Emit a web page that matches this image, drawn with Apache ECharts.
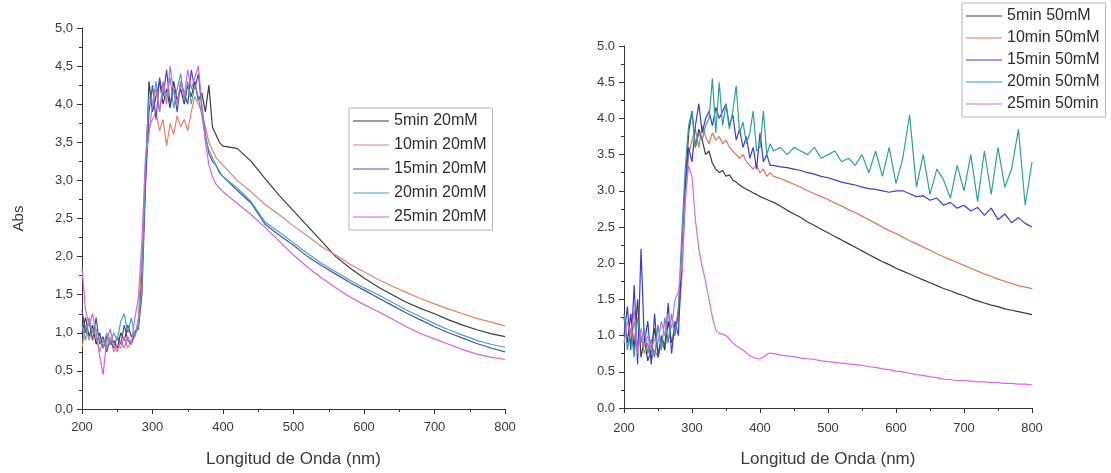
<!DOCTYPE html>
<html><head><meta charset="utf-8">
<script src="https://cdn.jsdelivr.net/npm/echarts@6/dist/echarts.min.js"></script>
<style>html,body{margin:0;padding:0;background:#fff}#c{width:1111px;height:473px}</style>
</head><body><div id="c"></div>
<script>
// ---------- Left chart (20mM) ----------
const wlLeft = [200,205,210,215,220,225,230,235,240,245,250,255,260,265,270,275,280,285,290,295,300,305,310,315,320,325,330,335,340,345,350,355,360,365,370,375,380,385,390,395,400,420,440,460,480,500,520,540,560,580,600,620,640,660,680,700,720,740,760,780,800];
const namesLeft = ['5min 20mM','10min 20mM','15min 20mM','20min 20mM','25min 20mM'];
const l5 = [1.0,1.2,0.95,1.1,0.85,1.0,0.8,0.95,0.85,0.9,0.8,1.0,0.9,1.1,0.95,1.0,1.1,
  1.8,3.0,4.3,3.9,4.1,4.3,4.0,4.2,3.95,4.3,4.05,4.2,4.0,4.25,4.1,4.3,4.05,4.15,3.9,4.25,3.7,3.6,3.5,3.45,
  3.42,3.25,3.02,2.8,2.6,2.4,2.2,2.0,1.85,1.72,1.6,1.5,1.4,1.32,1.25,1.17,1.1,1.04,0.99,0.95];
const l10 = [0.8,1.1,0.9,1.05,0.95,0.75,0.9,0.8,0.95,0.75,0.85,0.8,0.95,0.8,0.9,0.95,1.2,
  2.0,3.1,3.7,3.8,3.9,3.65,3.8,3.45,3.75,3.6,3.85,3.7,3.8,3.65,3.9,4.1,4.0,3.9,3.7,3.5,3.4,3.3,3.25,3.2,
  3.0,2.85,2.68,2.55,2.4,2.27,2.13,2.02,1.9,1.8,1.7,1.61,1.53,1.45,1.38,1.31,1.25,1.19,1.14,1.09];
const l15 = [1.3,1.0,1.15,0.9,1.2,0.85,0.95,0.75,0.9,0.8,0.95,0.85,1.1,0.9,0.85,1.0,1.05,
  1.5,2.9,3.9,4.25,3.8,4.35,4.1,4.45,4.0,4.2,3.9,4.3,4.15,4.0,4.45,4.2,4.4,3.95,3.6,3.35,3.25,3.2,3.1,3.05,
  2.87,2.7,2.42,2.28,2.15,2.0,1.88,1.77,1.66,1.56,1.46,1.36,1.26,1.17,1.08,1.0,0.93,0.86,0.8,0.75];
const l20 = [1.1,0.9,1.2,1.0,1.05,0.9,0.8,1.0,0.85,1.0,0.9,1.15,1.25,1.0,1.2,0.95,1.1,
  1.6,3.2,4.1,4.0,4.3,3.9,4.2,4.1,4.35,3.95,4.2,4.4,4.05,4.3,4.0,4.25,4.1,3.85,3.55,3.4,3.3,3.2,3.12,3.05,
  2.9,2.72,2.45,2.32,2.18,2.04,1.91,1.8,1.69,1.59,1.5,1.4,1.3,1.21,1.12,1.04,0.97,0.9,0.85,0.81];
const l25 = [1.85,1.3,1.1,1.25,1.0,0.7,0.45,0.9,1.05,0.85,0.75,0.9,0.8,0.95,0.85,1.2,1.45,
  2.2,3.3,3.6,4.0,4.2,3.9,4.3,4.0,4.5,4.15,4.0,4.3,4.1,4.45,4.2,4.35,4.5,4.0,3.5,3.2,3.05,2.95,2.9,2.85,
  2.7,2.55,2.38,2.2,2.02,1.86,1.72,1.59,1.47,1.37,1.28,1.18,1.08,0.99,0.92,0.85,0.78,0.72,0.68,0.65];

// ---------- Right chart (50mM) ----------
const wlRight = [200,205,210,215,220,225,230,235,240,245,250,255,260,265,270,275,280,285,290,295,300,305,310,315,320,325,330,335,340,345,350,355,360,365,370,375,380,385,390,395,400,405,410,415,420,
  430,440,450,460,470,480,490,500,510,520,530,540,550,560,570,580,590,600,610,620,630,640,650,660,670,680,690,700,710,720,730,740,750,760,770,780,790,800];
const namesRight = ['5min 50mM','10min 50mM','15min 50mM','20min 50mM','25min 50min'];
const r5 = [1.25,0.9,1.3,0.8,1.5,0.7,0.95,0.65,0.8,1.1,0.75,0.95,0.8,1.2,0.9,1.05,1.3,1.9,
  3.0,3.8,4.1,3.6,3.85,3.7,3.5,3.55,3.38,3.3,3.25,3.28,3.2,3.22,3.15,3.12,3.08,3.05,3.02,3.0,2.97,2.95,2.92,2.9,2.88,2.86,2.84,
  2.79,2.73,2.68,2.63,2.57,2.52,2.47,2.42,2.37,2.32,2.27,2.22,2.17,2.12,2.07,2.02,1.98,1.93,1.89,1.85,
  1.81,1.77,1.73,1.69,1.65,1.62,1.58,1.55,1.51,1.48,1.45,1.42,1.4,1.37,1.35,1.33,1.31,1.29];
const r10 = [1.1,1.0,0.9,1.2,0.85,1.0,0.75,0.9,0.65,0.8,0.7,0.9,0.85,1.0,0.95,1.1,1.2,1.8,
  2.8,3.5,3.7,3.85,3.6,3.9,3.75,3.65,3.8,3.7,3.75,3.65,3.7,3.6,3.55,3.5,3.45,3.5,3.4,3.35,3.3,3.35,3.25,3.3,3.2,3.25,3.2,
  3.17,3.13,3.09,3.05,3.0,2.96,2.92,2.88,2.83,2.79,2.74,2.7,2.65,2.6,2.55,2.5,2.45,2.41,2.36,2.31,
  2.27,2.22,2.18,2.13,2.09,2.05,2.01,1.97,1.93,1.89,1.85,1.82,1.78,1.75,1.72,1.69,1.67,1.65];
const r15 = [1.0,1.4,0.8,1.7,0.6,2.2,0.9,1.2,0.6,1.3,0.7,1.0,0.85,1.45,0.75,1.2,1.0,2.1,
  3.1,3.6,3.4,3.9,4.2,3.8,4.0,4.1,3.9,4.15,4.0,4.1,4.2,3.9,4.05,3.7,3.85,3.6,3.75,3.45,3.6,3.3,3.8,3.4,3.5,3.35,3.35,
  3.33,3.32,3.3,3.28,3.25,3.23,3.2,3.18,3.15,3.12,3.1,3.08,3.05,3.03,3.02,3.0,2.98,3.0,3.0,2.96,
  2.92,2.93,2.87,2.9,2.8,2.84,2.76,2.8,2.72,2.77,2.66,2.76,2.6,2.68,2.56,2.63,2.55,2.5];
const r20 = [1.3,0.8,1.1,0.7,1.25,0.9,1.1,0.75,0.95,0.7,1.15,0.8,1.25,0.9,1.3,1.0,1.4,2.4,
  3.3,3.9,4.1,3.6,3.8,3.7,3.9,4.0,4.55,3.8,4.5,3.9,4.2,3.85,4.1,4.45,3.8,3.95,3.65,3.8,4.1,3.55,3.6,4.1,3.5,3.65,3.55,
  3.6,3.5,3.6,3.55,3.5,3.6,3.45,3.5,3.55,3.4,3.45,3.35,3.5,3.25,3.55,3.2,3.6,3.1,3.45,4.05,
  3.05,3.5,2.95,3.3,3.15,2.9,3.35,3.0,3.5,2.85,3.55,2.95,3.6,3.05,3.3,3.85,2.8,3.4];
const r25 = [0.9,1.2,1.0,1.35,0.75,1.1,0.85,1.0,0.8,0.95,0.9,1.2,1.0,1.3,1.1,1.5,1.6,2.0,
  2.9,3.35,3.2,2.6,2.2,1.95,1.75,1.5,1.25,1.08,1.03,1.02,1.0,0.95,0.9,0.86,0.83,0.8,0.76,0.72,0.7,0.68,0.68,0.7,0.74,0.76,0.75,
  0.73,0.72,0.71,0.69,0.68,0.67,0.65,0.64,0.63,0.62,0.61,0.6,0.59,0.57,0.56,0.54,0.53,0.51,0.5,0.48,
  0.46,0.45,0.43,0.42,0.4,0.39,0.38,0.38,0.37,0.36,0.36,0.35,0.35,0.34,0.34,0.33,0.33,0.32];

const xTitle = 'Longitud de Onda (nm)';
const yTitle = 'Abs';

const colorsLeft = ['#3d3d3d','#e0826c','#4b4fa8','#4aa2bc','#d263e0'];
const colorsRight = ['#3a3a3a','#e0735e','#3c3cd0','#2f9f9f','#d46ae6'];

const FONT = 'Liberation Sans, Arial, sans-serif';
const TXT = '#3a3a3a';

function pairs(xs, ys){ return xs.map((x,i)=>[x, ys[i]]); }

function xAxisCfg(gi, gap, margin){
  return {
    type:'value', gridIndex:gi, min:200, max:800, interval:100,
    name:xTitle, nameLocation:'middle', nameGap:gap,
    nameTextStyle:{fontFamily:FONT, fontSize:17, color:TXT},
    axisLine:{show:true, lineStyle:{color:'#333', width:1}},
    axisTick:{show:true, inside:false, length:5, lineStyle:{color:'#333'}},
    minorTick:{show:true, splitNumber:2, length:3, lineStyle:{color:'#333'}},
    splitLine:{show:false},
    axisLabel:{fontFamily:FONT, fontSize:13, color:TXT, margin:margin}
  };
}
function yAxisCfg(gi, sep, withName){
  const a = {
    type:'value', gridIndex:gi, min:0, max:5, interval:0.5,
    axisLine:{show:true, lineStyle:{color:'#333', width:1}},
    axisTick:{show:true, inside:false, length:5, lineStyle:{color:'#333'}},
    minorTick:{show:true, splitNumber:2, length:3, lineStyle:{color:'#333'}},
    splitLine:{show:false},
    axisLabel:{fontFamily:FONT, fontSize:13, color:TXT, margin:9,
      formatter:v=>v.toFixed(1).replace('.', sep)}
  };
  if(withName){
    a.name = yTitle; a.nameLocation='middle'; a.nameGap=56;
    a.nameTextStyle={fontFamily:FONT, fontSize:15, color:TXT};
  }
  return a;
}
function legendCfg(names, left, top, gap){
  return {
    data:names, orient:'vertical', left:left, top:top,
    itemWidth:36, itemHeight:14, itemGap:gap,
    padding:[5,6,5,4],
    borderColor:'#b5b5b5', borderWidth:1, backgroundColor:'#fff',
    icon:'path://M0,6.4L36,6.4L36,7.6L0,7.6Z',
    textStyle:{fontFamily:FONT, fontSize:16, color:'#2e2e2e'}
  };
}
function mkSeries(names, ys, xs, colors, xi, yi){
  return names.map((n,k)=>({
    name:n, type:'line', xAxisIndex:xi, yAxisIndex:yi,
    data:pairs(xs, ys[k]), symbol:'none', showSymbol:false,
    lineStyle:{width:1.2, color:colors[k]}, itemStyle:{color:colors[k]},
    animation:false, silent:true
  }));
}

const chart = echarts.init(document.getElementById('c'), null, {renderer:'canvas'});
chart.setOption({
  animation:false,
  backgroundColor:'#fff',
  grid:[
    {left:82, top:28, width:423, height:383},
    {left:624, top:46, width:408, height:367}
  ],
  xAxis:[xAxisCfg(0, 42, 12), xAxisCfg(1, 43, 14)],
  yAxis:[yAxisCfg(0, ',', true), yAxisCfg(1, '.', false)],
  legend:[
    legendCfg(namesLeft, 349, 108, 8),
    legendCfg(namesRight, 962, 3, 6)
  ],
  series:[
    ...mkSeries(namesLeft, [l5,l10,l15,l20,l25], wlLeft, colorsLeft, 0, 0),
    ...mkSeries(namesRight, [r5,r10,r15,r20,r25], wlRight, colorsRight, 1, 1)
  ]
});
</script>
</body></html>
